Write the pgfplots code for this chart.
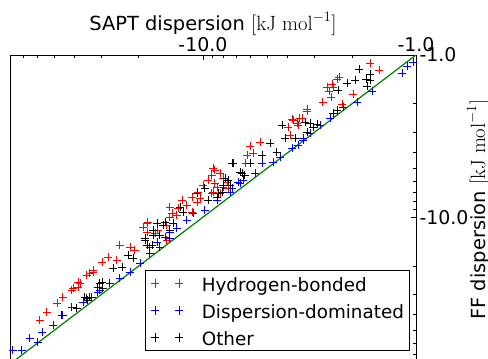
\documentclass[border=0pt]{standalone}
\usepackage[no-math]{fontspec}
\setmainfont{DejaVu Sans}
\usepackage{pgfplots}
\pgfplotsset{compat=1.18}
\definecolor{mplgreen}{rgb}{0,0.5,0}
\definecolor{mplred}{rgb}{1,0,0}
\definecolor{mplblue}{rgb}{0,0,1}
\pgfplotsset{
  twoplus/.style={legend image code/.code={\draw[draw=#1, color=#1, line width=1bp, solid] (-4.2bp,0bp)--(4.2bp,0bp) (0bp,-4.2bp)--(0bp,4.2bp) (19.8bp,0bp)--(28.2bp,0bp) (24bp,-4.2bp)--(24bp,4.2bp);}},
}
\begin{document}
\begin{tikzpicture}
\begin{axis}[
  at={(0,0)}, anchor=south west,
  scale only axis, width=406bp, height=309bp,
  xmode=log, ymode=log,
  x dir=reverse, y dir=reverse,
  xmin=1, xmax=80.5, ymin=1, ymax=80.5,
  xtick={1,10}, xticklabels={-1.0,-10.0},
  ytick={1,10}, yticklabels={-1.0,-10.0},
  minor xtick={2,3,4,5,6,7,8,9,20,30,40,50,60,70,80},
  minor ytick={2,3,4,5,6,7,8,9,20,30,40,50,60,70,80},
  xticklabel pos=right, yticklabel pos=right,
  xtick pos=right, ytick pos=right,
  tick align=inside,
  major tick length=5bp, minor tick length=3bp,
  every tick/.style={black, line width=0.7bp},
  axis line style={line width=0.9bp},
  ticklabel style={font=\fontsize{19}{22}\selectfont},
  xlabel={SAPT dispersion $[\mathrm{kJ\ mol}^{-1}]$},
  ylabel={FF dispersion $[\mathrm{kJ\ mol}^{-1}]$},
  xlabel style={font=\fontsize{19.5}{23}\selectfont, yshift=-5bp},
  ylabel style={at={(axis description cs:1.125,0.5)}, anchor=north, inner sep=0pt, font=\fontsize{19.5}{23}\selectfont},
  legend cell align=left,
  legend style={at={(0.3325,0.3042)}, anchor=north west,
    draw=black, line width=0.9bp, inner xsep=5bp, inner ysep=4bp,
    font=\fontsize{18.4}{21}\selectfont,
    nodes={inner sep=1bp, text height=16bp, text depth=0bp},
    row sep=9bp, column sep=17bp},
  mark size=4.2bp,
]
\addplot[only marks, mark=+, color=mplred, mark options={line width=0.9bp, draw=mplred}, twoplus=mplred] coordinates {
(1.644,1.120) (1.492,1.238) (2.299,1.367) (2.349,1.406) (2.479,1.510) (2.618,1.576) (2.453,1.576) (2.560,1.668) (2.506,1.817) (1.977,1.740) (2.734,1.950) (2.225,2.006) (3.250,2.154) (3.777,2.518) (3.428,2.448) (3.581,2.704) (3.250,2.217) (3.506,2.448) (3.821,2.483) (3.620,2.630) (3.990,2.781) (3.905,3.118) (5.400,3.443) (6.015,3.646) (6.212,4.142) (5.823,4.027) (6.284,4.642) (8.786,5.128) (9.075,5.505) (8.057,5.743) (7.714,6.081) (8.593,6.531) (8.975,7.013) (8.318,7.111) (7.632,6.624) (8.975,4.985) (8.318,5.350) (9.474,5.910) (8.786,6.168) (10.0,6.346) (8.057,6.531) (10.56,7.013) (9.075,7.111) (11.26,7.527) (10.33,7.633) (12.55,7.853) (10.67,8.080) (14.29,8.675) (13.10,8.795) (11.89,8.434) (13.98,9.446) (11.26,9.313) (18.13,10.73) (16.44,10.89) (15.41,11.20) (18.32,12.38) (16.80,12.55) (14.76,13.87) (18.32,10.89) (19.13,11.53) (24.53,14.89) (22.01,15.31) (20.86,15.99) (27.92,17.66) (29.79,18.96) (25.34,18.42) (32.83,21.24) (33.93,22.17) (38.62,25.19) (40.76,27.43) (14.29,10.0) (14.76,11.20) (13.25,9.72) (16.27,12.03) (35.06,22.80) (37.79,25.55) (41.21,28.24) (45.43,31.19) (48.46,33.95) (54.00,38.58) (58.25,43.25) (38.62,27.04) (32.83,21.86)
};
\addlegendentry{Hydrogen-bonded}
\addplot[only marks, mark=+, color=mplblue, mark options={line width=0.9bp, draw=mplblue}, twoplus=mplblue] coordinates {
(1.033,1.105) (1.102,1.169) (1.163,1.291) (1.609,1.668) (1.892,1.950) (2.202,2.094) (2.533,2.448) (2.823,2.704) (3.392,3.253) (3.581,3.594) (3.145,3.030) (3.392,3.347) (3.821,3.750) (4.350,4.263) (4.691,4.576) (5.284,4.642) (5.699,5.350) (6.489,5.910) (7.311,6.624) (6.850,6.081) (6.702,6.168) (7.468,7.013) (8.593,7.853) (9.790,9.052) (11.14,9.446) (11.89,10.44) (13.25,11.69) (14.29,12.38) (15.08,13.28) (16.44,14.27) (17.74,15.31) (14.29,13.48) (15.92,15.31) (17.74,16.68) (19.76,19.23) (22.01,21.86) (24.53,23.81) (27.33,25.55) (31.12,29.04) (33.93,31.19) (30.45,28.24) (33.21,31.19) (36.58,33.47) (41.21,35.94) (45.43,40.27) (50.60,46.42) (56.99,51.27) (64.93,55.83) (59.54,59.12) (78.0,66.22) (70.79,66.22)
};
\addlegendentry{Dispersion-dominated}
\addplot[only marks, mark=+, color=black, mark options={line width=0.9bp, draw=black}, twoplus=black] coordinates {
(1.852,1.220) (1.644,1.310) (1.717,1.406) (1.933,1.427) (2.108,1.489) (2.323,1.644) (1.644,1.427) (1.698,1.553) (2.349,2.186) (2.453,2.280) (3.320,2.592) (3.045,2.781) (3.250,2.987) (3.698,3.253) (2.916,2.667) (4.256,2.704) (4.121,3.253) (4.847,3.493) (5.284,4.142) (4.495,3.971) (7.311,4.642) (6.561,5.350) (6.015,4.642) (7.877,5.743) (7.468,6.346) (8.144,7.013) (8.593,7.527) (3.145,2.630) (7.228,4.642) (6.702,5.277) (7.632,5.910) (6.353,5.505) (8.057,6.346) (9.790,6.624) (10.67,7.111) (8.503,7.111) (9.474,7.853) (12.82,8.675) (12.41,9.313) (15.08,10.73) (13.83,10.89) (17.17,12.03) (18.72,13.48) (15.92,12.91) (17.35,14.89) (16.44,10.89) (15.41,11.20) (17.17,12.91) (18.72,13.87) (22.49,17.16) (21.31,17.91) (23.99,20.35) (26.45,20.64) (29.79,25.19) (31.12,27.04) (35.81,31.19) (14.29,12.03) (18.32,14.89) (30.45,25.55) (35.06,31.62) (39.06,36.45) (45.92,40.27) (29.48,27.43) (34.67,32.53)
};
\addlegendentry{Other}
\addplot[mplgreen, line width=1.2bp, forget plot] coordinates {(1,1) (80.5,80.5)};
\end{axis}
\pgfresetboundingbox
\useasboundingbox (-10bp,5bp) rectangle (478bp,364bp);
\end{tikzpicture}
\end{document}
